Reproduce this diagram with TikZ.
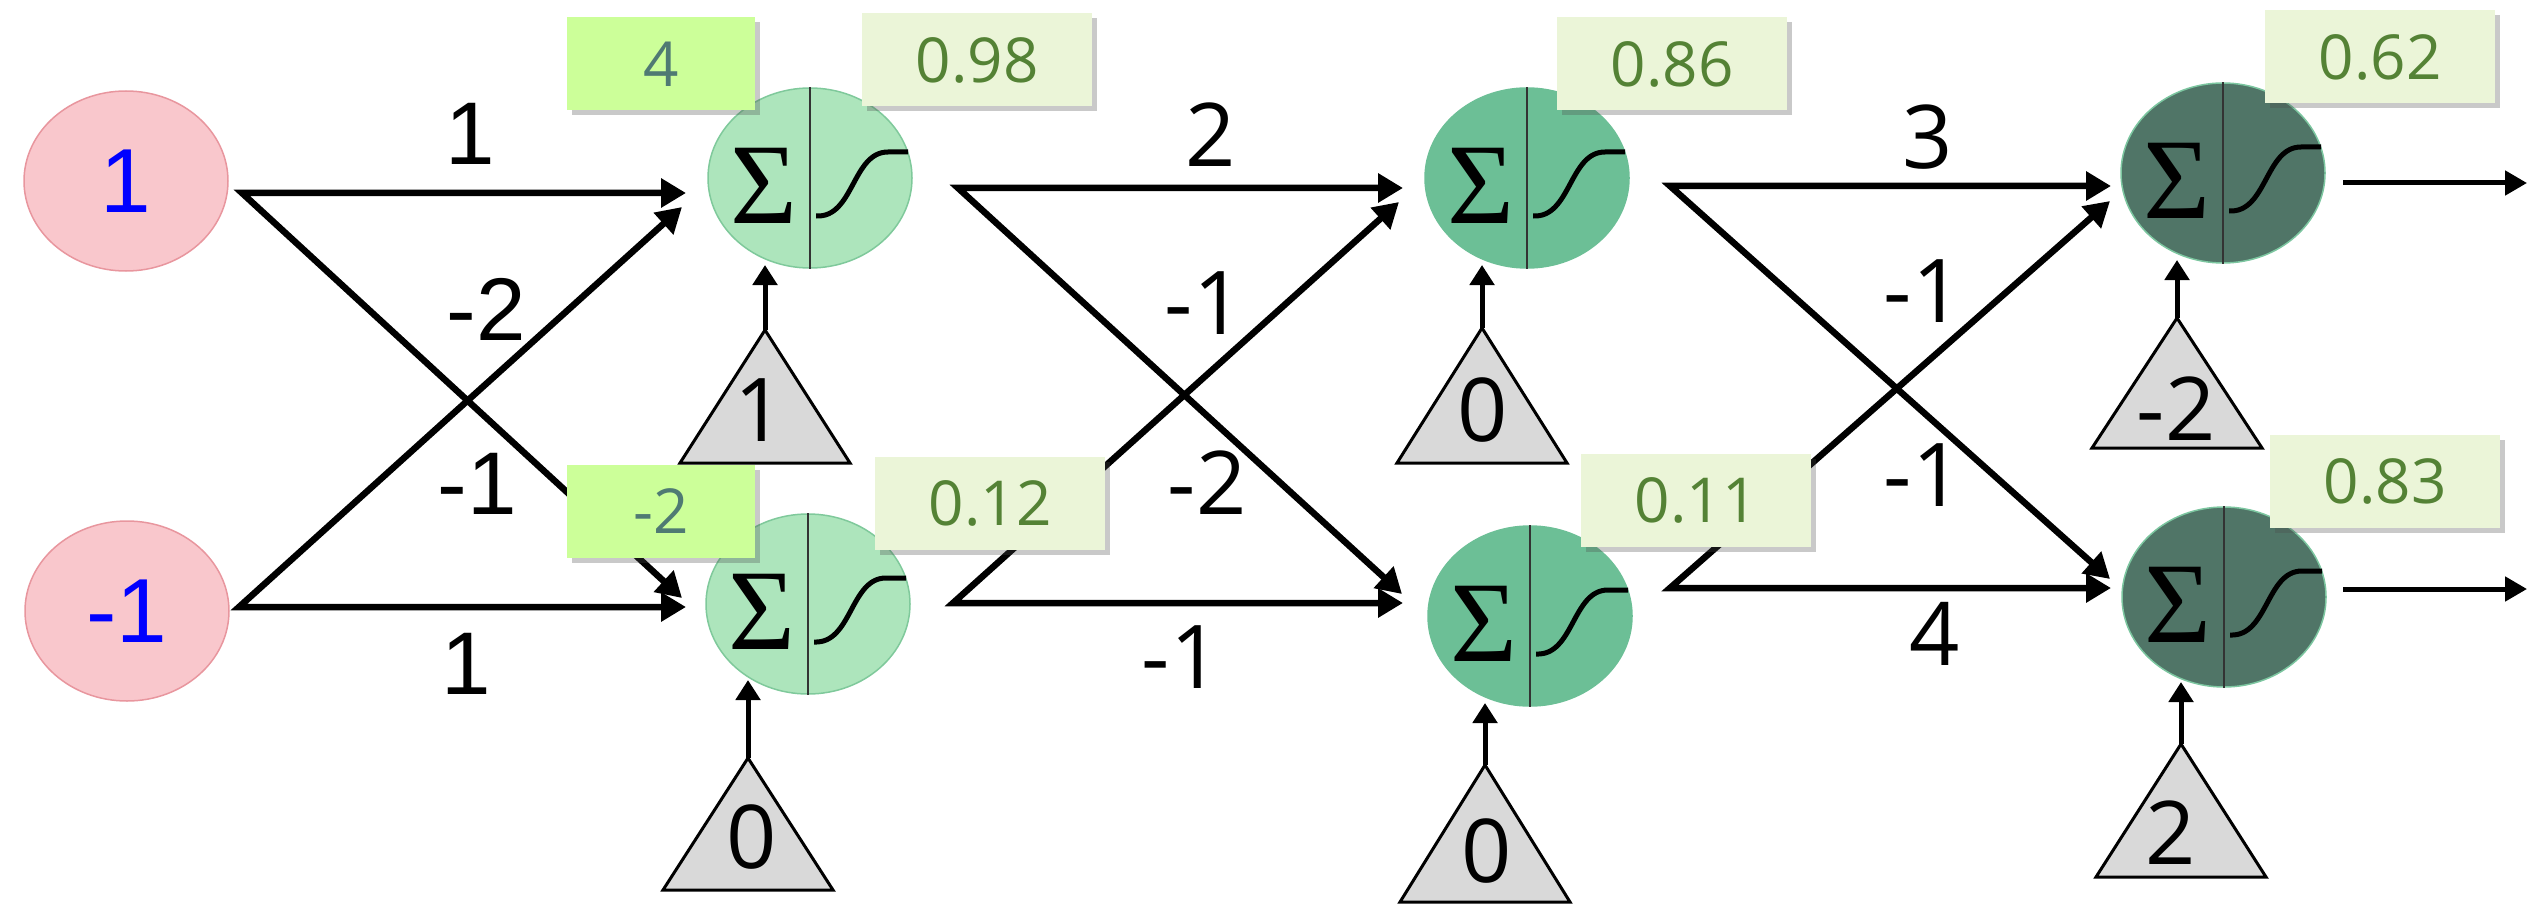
\documentclass[tikz,border=0pt]{standalone}
\usepackage{fontspec}
\setmainfont{Open Sans}
\newfontfamily\arialf{Liberation Sans}
\newfontfamily\sigf{Liberation Serif}
\usetikzlibrary{arrows.meta,shapes.geometric,shadows,calc}

\definecolor{inpfill}{HTML}{F9C7CC}
\definecolor{inpdraw}{HTML}{E8969E}
\definecolor{nAfill}{HTML}{ADE5BC}
\definecolor{nAdraw}{HTML}{7FC99B}
\definecolor{nBfill}{HTML}{6CBF96}
\definecolor{nBdraw}{HTML}{6CBF96}
\definecolor{nCfill}{HTML}{507567}
\definecolor{nCdraw}{HTML}{7CC6A0}
\definecolor{boxA}{HTML}{CCFF99}
\definecolor{boxB}{HTML}{EBF5D8}
\definecolor{valtext}{HTML}{548235}
\definecolor{sumtext}{HTML}{4F7A73}
\definecolor{trifill}{HTML}{D9D9D9}

\tikzset{
  x=1pt, y=-1pt,
  inp/.style={ellipse, minimum width=204pt, minimum height=180pt, inner sep=0pt,
    fill=inpfill, draw=inpdraw, line width=1.5pt, text=blue,
    font=\arialf\fontsize{91}{91}\selectfont},
  neu/.style={ellipse, minimum width=204pt, minimum height=180pt, inner sep=0pt, line width=1.5pt},
  sig/.style={font=\sigf\fontsize{115}{115}\selectfont, inner sep=0pt},
  sigm/.style={line width=5pt},
  divl/.style={line width=1.8pt, draw=black!80},
  edge/.style={line width=6.5pt, line join=miter,
    {Triangle[length=25pt,width=28pt]}-{Triangle[length=25pt,width=28pt]}},
  wlab/.style={font=\fontsize{88}{88}\selectfont, inner sep=0pt},
  wlabA/.style={font=\arialf\fontsize{89}{89}\selectfont, inner sep=0pt},
  valbox/.style={fill=boxB, minimum width=230pt, minimum height=93pt, inner sep=0pt,
    text=valtext, font=\fontsize{62}{62}\selectfont,
    drop shadow={shadow xshift=5pt, shadow yshift=-5pt, opacity=0.3, fill=black!70}},
  sumbox/.style={valbox, fill=boxA, minimum width=188pt, text=sumtext},
  tri/.style={fill=trifill, draw=black, line width=3pt, line join=miter},
  tlab/.style={font=\fontsize{88}{88}\selectfont, inner sep=0pt},
  bias/.style={line width=5pt, -{Triangle[length=20pt,width=24pt]}},
  outa/.style={line width=5pt, -{Triangle[length=22pt,width=24pt]}},
}

\newcommand\mkneuron[4]{%
  \node[neu, fill=#4fill, draw=#4draw] (#1) at (#2,#3) {};
  \draw[divl] (#1.north) -- (#1.south);
  \node[sig] (#1s) at ($(#1.center)+(-46,8)$) {Σ};
  \draw[sigm] ($(#1.center)+(6,38)$) .. controls ($(#1.center)+(44,40)$) and ($(#1.center)+(42,-26)$) .. ($(#1.center)+(78,-26)$) -- ($(#1.center)+(98,-26)$);
}
\newcommand\mkbias[5]{% name, apex x, apex y, height, tip y
  \coordinate (#1) at (#2,#3);
  \coordinate (#1t) at (#2,#5);
  \draw[tri] (#1) -- ++(85,#4) -- ++(-170,0) -- cycle;
}

\begin{document}
\begin{tikzpicture}
\useasboundingbox (0,0) rectangle (2534,904);

% ---- edge coordinates
\coordinate (s1a) at (242,193); \coordinate (s1b) at (239,607);
\coordinate (t11a) at (686,193); \coordinate (t11b) at (682,207);
\coordinate (t12a) at (686,607); \coordinate (t12b) at (682,598);
\coordinate (s2a) at (958,188); \coordinate (s2b) at (953,603);
\coordinate (t21a) at (1403,188); \coordinate (t21b) at (1399,202);
\coordinate (t22a) at (1403,603); \coordinate (t22b) at (1402,594);
\coordinate (s3a) at (1670,186); \coordinate (s3b) at (1670,588);
\coordinate (t31a) at (2111,186); \coordinate (t31b) at (2110,201);
\coordinate (t32a) at (2111,588); \coordinate (t32b) at (2110,579);
\coordinate (o1s) at (2343,183); \coordinate (o1e) at (2527,183);
\coordinate (o2s) at (2343,589); \coordinate (o2e) at (2527,589);

% ---- connectors
\draw[edge] (t11a) -- (s1a) -- (t12b);
\draw[edge] (t12a) -- (s1b) -- (t11b);
\draw[edge] (t21a) -- (s2a) -- (t22b);
\draw[edge] (t22a) -- (s2b) -- (t21b);
\draw[edge] (t31a) -- (s3a) -- (t32b);
\draw[edge] (t32a) -- (s3b) -- (t31b);

% ---- inputs
\node[inp] (in1) at (126,181) {1};
\node[inp] (in2) at (127,611) {-1};

% ---- neurons
\mkneuron{n11}{810}{178}{nA}
\mkneuron{n12}{808}{604}{nA}
\mkneuron{n21}{1527}{178}{nB}
\mkneuron{n22}{1530}{616}{nB}
\mkneuron{n31}{2223}{173}{nC}
\mkneuron{n32}{2224}{597}{nC}

\draw[outa] (o1s) -- (o1e);
\draw[outa] (o2s) -- (o2e);

% ---- biases
\mkbias{b11}{765}{330}{133}{265}
\mkbias{b12}{748}{758}{132}{680}
\mkbias{b21}{1482}{328}{135}{265}
\mkbias{b22}{1485}{765}{137}{703}
\mkbias{b31}{2177}{318}{130}{260}
\mkbias{b32}{2181}{744}{133}{682}
\draw[bias] (b11) -- (b11t);
\draw[bias] (b12) -- (b12t);
\draw[bias] (b21) -- (b21t);
\draw[bias] (b22) -- (b22t);
\draw[bias] (b31) -- (b31t);
\draw[bias] (b32) -- (b32t);
\node[tlab] (b11l) at (760,410) {1};
\node[tlab] (b12l) at (752,837) {0};
\node[tlab] (b21l) at (1483,410) {0};
\node[tlab] (b22l) at (1487,851) {0};
\node[tlab] (b31l) at (2176,409) {-2};
\node[tlab] (b32l) at (2171,833) {2};

% ---- weight labels
\node[wlabA] (w1a) at (470,134) {1};
\node[wlabA] (w1b) at (486,309) {-2};
\node[wlabA] (w1c) at (477,484) {-1};
\node[wlabA] (w1d) at (466,664) {1};
\node[wlab] (w2a) at (1211,135) {2};
\node[wlab] (w2b) at (1204,303) {-1};
\node[wlab] (w2c) at (1207,483) {-2};
\node[wlab] (w2d) at (1181,657) {-1};
\node[wlab] (w3a) at (1928,137) {3};
\node[wlab] (w3b) at (1923,291) {-1};
\node[wlab] (w3c) at (1923,475) {-1};
\node[wlab] (w3d) at (1935,634) {4};

% ---- value boxes
\node[sumbox] (z11) at (661,64) {4};
\node[sumbox] (z12) at (661,511) {-2};
\node[valbox] (a11) at (977,60) {0.98};
\node[valbox] (a12) at (990,503) {0.12};
\node[valbox] (a21) at (1672,64) {0.86};
\node[valbox] (a22) at (1696,500) {0.11};
\node[valbox] (a31) at (2380,57) {0.62};
\node[valbox] (a32) at (2385,481) {0.83};
\end{tikzpicture}
\end{document}
